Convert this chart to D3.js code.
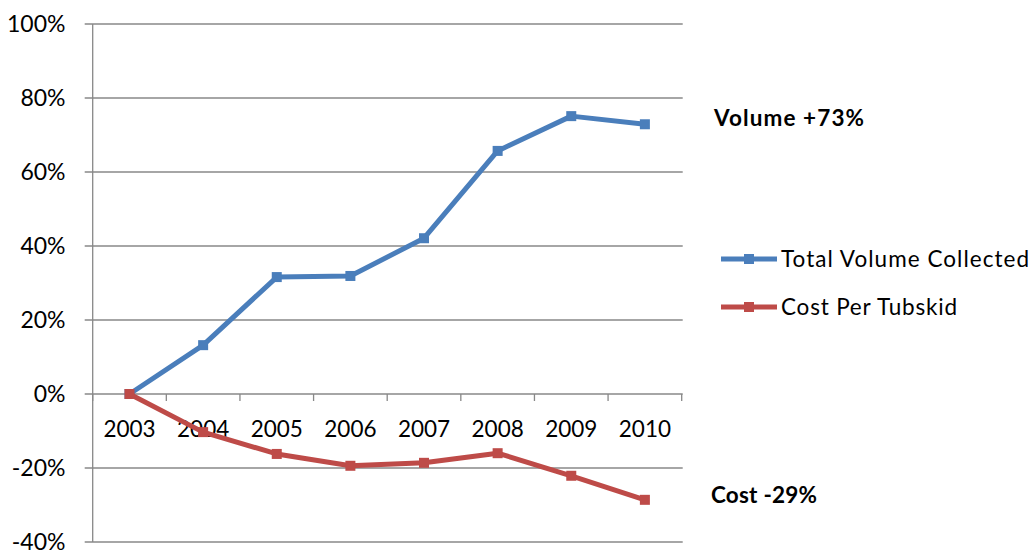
<!DOCTYPE html>
<html>
<head>
<meta charset="utf-8">
<script src="https://cdn.jsdelivr.net/npm/d3@7"></script>
<style>
  html, body { margin: 0; padding: 0; background: #fff; }
  svg { display: block; font-family: Lato, "Open Sans", sans-serif; }
</style>
</head>
<body>
<svg id="chart" width="1034" height="551"></svg>
<script>
// Year-over-year change relative to 2003
const years = ["2003", "2004", "2005", "2006", "2007", "2008", "2009", "2010"];
const totalVolume = [0, 13.2, 31.6, 31.9, 42.1, 65.7, 75.1, 72.9];
const costPerTubskid = [0, -10.3, -16.2, -19.4, -18.6, -16.0, -22.1, -28.6];
const yTicks = [-40, -20, 0, 20, 40, 60, 80, 100];
const seriesNames = ["Total Volume Collected", "Cost Per Tubskid"];
const seriesColors = ["#4a7ebb", "#be4b48"];
const notes = [
  { text: "Volume +73%", value: totalVolume[7] },
  { text: "Cost -29%", value: costPerTubskid[7] }
];

const svg = d3.select("#chart");
const plotLeft = 92.7, plotRight = 681.7, plotTop = 24, plotBottom = 542;

const x = d3.scaleBand().domain(years).range([plotLeft, plotRight]);
const y = d3.scaleLinear().domain([-40, 100]).range([plotBottom, plotTop]);

// Horizontal gridlines with short ticks to the left of the value axis
svg.append("g")
  .selectAll("line")
  .data(yTicks)
  .join("line")
  .attr("x1", plotLeft - 8).attr("x2", plotRight + 1)
  .attr("y1", d => y(d)).attr("y2", d => y(d))
  .attr("stroke", "#888").attr("stroke-width", 1.3);

// Value axis line
svg.append("line")
  .attr("x1", plotLeft).attr("x2", plotLeft)
  .attr("y1", plotTop).attr("y2", plotBottom)
  .attr("stroke", "#888").attr("stroke-width", 1.3);

// Value axis labels
svg.append("g")
  .selectAll("text")
  .data(yTicks)
  .join("text")
  .attr("x", 65.5).attr("y", d => y(d) + 8.2)
  .attr("text-anchor", "end")
  .attr("font-size", 23)
  .attr("fill", "#000")
  .text(d => d + "%");

// Category axis crossing at 0%
const catTicks = d3.range(years.length + 1).map(i => plotLeft + i * x.step());
svg.append("g")
  .selectAll("line")
  .data(catTicks)
  .join("line")
  .attr("x1", d => d).attr("x2", d => d)
  .attr("y1", y(0)).attr("y2", y(0) + 7)
  .attr("stroke", "#888").attr("stroke-width", 1.3);

svg.append("g")
  .selectAll("text")
  .data(years)
  .join("text")
  .attr("x", d => x(d) + x.bandwidth() / 2)
  .attr("y", y(0) + 43)
  .attr("text-anchor", "middle")
  .attr("font-size", 22.5)
  .attr("fill", "#000")
  .text(d => d);

// Series lines with square markers
const line = d3.line()
  .x((d, i) => x(years[i]) + x.bandwidth() / 2)
  .y(d => y(d));

[totalVolume, costPerTubskid].forEach((vals, k) => {
  const g = svg.append("g");
  g.append("path")
    .datum(vals)
    .attr("d", line)
    .attr("fill", "none")
    .attr("stroke", seriesColors[k])
    .attr("stroke-width", 5)
    .attr("stroke-linejoin", "round");
  g.selectAll("rect")
    .data(vals)
    .join("rect")
    .attr("x", (d, i) => x(years[i]) + x.bandwidth() / 2 - 5)
    .attr("y", d => y(d) - 5)
    .attr("width", 10).attr("height", 10)
    .attr("fill", seriesColors[k]);
});

// Legend
const legend = svg.append("g");
const legendWidths = [248, 176];
seriesNames.forEach((name, k) => {
  const ly = 259 + k * 48;
  legend.append("line")
    .attr("x1", 721).attr("x2", 777)
    .attr("y1", ly).attr("y2", ly)
    .attr("stroke", seriesColors[k]).attr("stroke-width", 5);
  legend.append("rect")
    .attr("x", 744).attr("y", ly - 5)
    .attr("width", 10).attr("height", 10)
    .attr("fill", seriesColors[k]);
  legend.append("text")
    .attr("x", 781).attr("y", ly + 7.5)
    .attr("font-size", 22.5)
    .attr("textLength", legendWidths[k])
    .attr("lengthAdjust", "spacing")
    .attr("fill", "#000")
    .text(name);
});

// Change annotations
svg.append("text")
  .attr("x", 714).attr("y", 126)
  .attr("font-size", 22.5).attr("font-weight", "bold")
  .attr("textLength", 150).attr("lengthAdjust", "spacing")
  .text(notes[0].text);
svg.append("text")
  .attr("x", 711).attr("y", 503)
  .attr("font-size", 22.5).attr("font-weight", "bold")
  .attr("textLength", 106).attr("lengthAdjust", "spacing")
  .text(notes[1].text);
</script>
</body>
</html>
